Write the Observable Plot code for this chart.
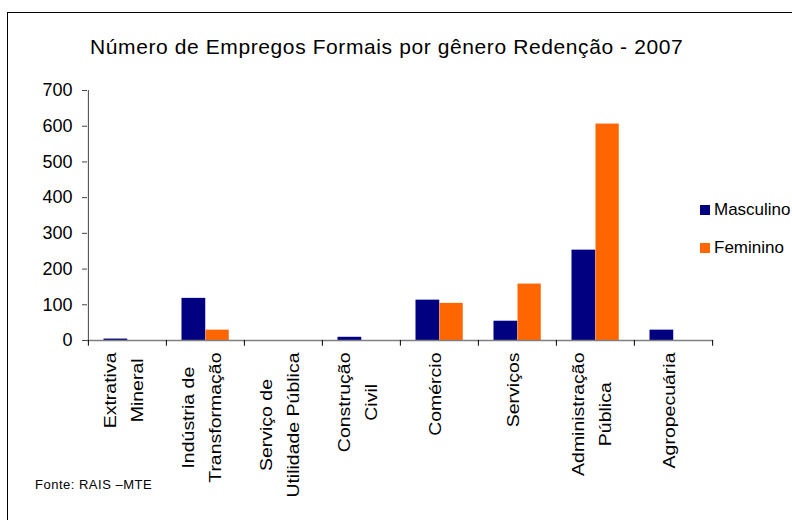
<!DOCTYPE html>
<html>
<head>
<meta charset="utf-8">
<script src="https://cdn.jsdelivr.net/npm/d3@7"></script>
<script src="https://cdn.jsdelivr.net/npm/@observablehq/plot@0.6"></script>
<style>
  html, body { margin: 0; padding: 0; background: #fff; }
  body { width: 792px; height: 520px; position: relative; overflow: hidden; font-family: "Liberation Sans", Arial, sans-serif; }
  #frame { position: absolute; left: 7px; top: 12px; width: 900px; height: 700px; border-left: 1px solid #000; border-top: 1px solid #000; }
  #chart { position: absolute; left: 0; top: 0; }
  #title { position: absolute; left: 90px; top: 35px; font-size: 21px; letter-spacing: 0.6px; white-space: nowrap; color: #000; }
  #legend { position: absolute; left: 700px; top: 200px; font-size: 17px; color: #000; }
  .li { position: absolute; left: 0; white-space: nowrap; height: 20px; line-height: 20px; }
  .sw { display: inline-block; width: 10px; height: 10px; margin-right: 4px; vertical-align: 0px; }
  #source { position: absolute; left: 35px; top: 477px; font-size: 13px; letter-spacing: 0.5px; color: #000; }
</style>
</head>
<body>
<div id="frame"></div>
<div id="chart"></div>
<div id="title">Número de Empregos Formais por gênero Redenção - 2007</div>
<div id="legend"></div>
<div id="source">Fonte: RAIS –MTE</div>
<script>
const categories = [
  "Extrativa\nMineral",
  "Indústria de\nTransformação",
  "Serviço de\nUtilidade Pública",
  "Construção\nCivil",
  "Comércio",
  "Serviços",
  "Administração\nPública",
  "Agropecuária"
];
const seriesNames = ["Masculino", "Feminino"];
const masculino = [4, 118, 0, 9, 113, 54, 253, 29];
const feminino = [0, 29, 0, 0, 104, 158, 606, 0];
const colors = ["#000080", "#FF6600"];
const yTicks = [0, 100, 200, 300, 400, 500, 600, 700];

const W = 792, H = 520, mL = 87, mR = 79, mT = 90, mB = 180;
const step = (W - mL - mR) / categories.length;

const dataM = categories.map((c, i) => ({cat: c, value: masculino[i], s: seriesNames[0]}));
const dataF = categories.map((c, i) => ({cat: c, value: feminino[i], s: seriesNames[1]}));

const plot = Plot.plot({
  width: W, height: H,
  marginLeft: mL, marginRight: mR, marginTop: mT, marginBottom: mB,
  style: {fontFamily: "'Liberation Sans', Arial, sans-serif", background: "transparent", overflow: "visible"},
  x: {domain: categories, padding: 0, axis: null, label: null},
  y: {domain: [0, 700], axis: null, label: null},
  color: {domain: seriesNames, range: colors},
  marks: [
    Plot.barY(dataM, {x: "cat", y: "value", fill: colors[0], insetLeft: 15.5, insetRight: step - 39.5}),
    Plot.barY(dataF, {x: "cat", y: "value", fill: colors[1], insetLeft: 39.5, insetRight: step - 63}),
    Plot.ruleY([0], {stroke: "#808080", strokeWidth: 1.5}),
    Plot.ruleX([categories[0]], {x: d => d, dx: -step / 2, y1: 0, y2: 700, stroke: "#444", strokeWidth: 1}),
    Plot.ruleX(categories, {x: d => d, dx: -step / 2, y1: 0, y2: -16, stroke: "#000", strokeWidth: 1}),
    Plot.ruleX([categories[categories.length - 1]], {x: d => d, dx: step / 2, y1: 0, y2: -16, stroke: "#000", strokeWidth: 1}),
    Plot.axisY({ticks: yTicks, label: null, tickSize: 5, tickPadding: 10, fontSize: 18, tickFormat: d => String(d), stroke: "#444", color: "#000"}),
    Plot.axisX({label: null, tickSize: 0, tickPadding: 12, tickRotate: -90, dx: -7, fontSize: 19.5, lineHeight: 1.75, color: "#000", tickFormat: d => d})
  ]
});
document.getElementById("chart").appendChild(plot);

// center each line of multi-line rotated labels relative to the longest line,
// and compress glyph height to match the reference's narrow lettering
d3.select(plot).selectAll("g[aria-label='x-axis tick label'] text").each(function() {
  const tspans = this.querySelectorAll("tspan");
  const tr = this.getAttribute("transform") || "";
  this.setAttribute("transform", tr + " scale(1,0.8)");
  if (tspans.length < 2) return;
  let maxW = 0;
  tspans.forEach(t => { maxW = Math.max(maxW, t.getComputedTextLength()); });
  this.setAttribute("text-anchor", "middle");
  tspans.forEach(t => t.setAttribute("x", -maxW / 2));
});

const legend = document.getElementById("legend");
seriesNames.forEach((n, i) => {
  const div = document.createElement("div");
  div.className = "li";
  div.style.top = (i * 38) + "px";
  div.innerHTML = `<span class="sw" style="background:${colors[i]}"></span>${n}`;
  legend.appendChild(div);
});
</script>
</body>
</html>
